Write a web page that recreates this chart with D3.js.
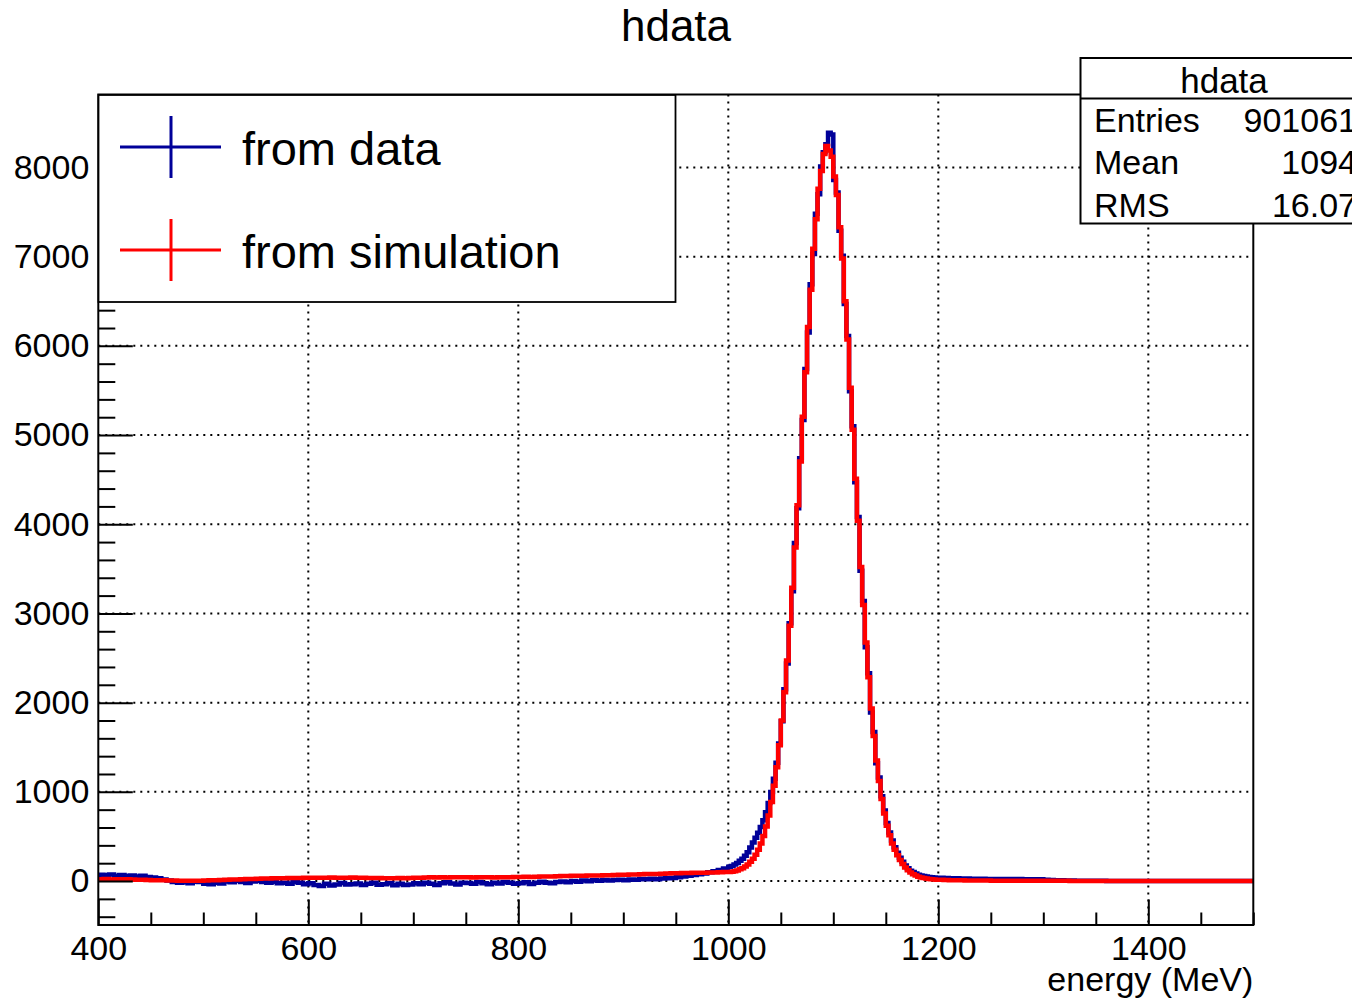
<!DOCTYPE html>
<html>
<head>
<meta charset="utf-8">
<title>hdata</title>
<script src="https://d3js.org/d3.v7.min.js"></script>
<style>
body { margin: 0; background: #fff; }
text { font-family: "Liberation Sans", Arial, Helvetica, sans-serif; fill: #000; }
</style>
</head>
<body>
<script>

// binning: 5 MeV bins below 1000 and above 1200, 2.5 MeV bins across the peak
var lowStart = 400, lowWidth = 5;
var peakStart = 1000, peakWidth = 2.5;
var highStart = 1200, highWidth = 5;

// "from data" counts
var dataLow = [
  70, 65, 72, 60, 68, 55, 62, 50, 58, 45,           // 400-450
  40, 30, 18, 5, -10, -20, -15, -25, -8, -12,       // 450-500
  -30, -37, -20, -28, -5, -15, 3, -10, -22, -5,     // 500-550
  3, -12, -20, -8, -25, -18, -30, -10, -19, -35,    // 550-600
  -25, -45, -56, -30, -50, -38, -22, -40, -37, -28, // 600-650
  -45, -30, -20, -42, -35, -25, -48, -30, -45, -40, // 650-700
  -26, -35, -20, -30, -45, -25, -15, -28, -38, -19, // 700-750
  -22, -30, -12, -25, -35, -20, -28, -10, -18, -30, // 750-800
  -26, -15, -32, -20, -8, -18, -25, -12, -5, -15,   // 800-850
  0, -8, 5, -3, 8, 2, 11, 6, 12, 15,                // 850-900
  10, 18, 14, 22, 19, 25, 20, 28, 32, 35,           // 900-950
  42, 50, 58, 67, 75, 85, 98, 110, 123, 140         // 950-1000
];
var dataPeak = [
  160, 168, 184, 203, 226, 249, 283, 324, 375, 431,            // 1000-1025
  486, 542, 607, 681, 771, 875, 997, 1148, 1326, 1543,         // 1025-1050
  1790, 2150, 2440, 2890, 3250, 3790, 4180, 4740, 5170, 5740,  // 1050-1075
  6150, 6690, 7030, 7480, 7700, 8010, 8170, 8260, 8390, 8370,  // 1075-1100
  7860, 7720, 7290, 7010, 6470, 6110, 5490, 5100, 4470, 4080,  // 1100-1125
  3480, 3140, 2620, 2330, 1890, 1670, 1320, 1160, 950, 790,    // 1125-1150
  650, 545, 455, 380, 318, 262, 215, 174, 142, 116,            // 1150-1175
  100, 85, 70, 62, 55, 50, 46, 43, 40, 38                      // 1175-1200
];
var dataHigh = [
  36, 33, 31, 30, 28, 27, 26, 25, 25, 24,           // 1200-1250
  24, 23, 23, 22, 22, 22, 21, 21, 20, 19,           // 1250-1300
  15, 12, 10, 8, 6, 5, 4, 3, 3, 2,                  // 1300-1350
  2, 2, 1, 1, 1, 1, 1, 1, 1, 1,                     // 1350-1400
  1, 0, 1, 0, 0, 1, 0, 0, 0, 0,                     // 1400-1450
  0, 0, 0, 0, 0, 0, 0, 0, 0, 0                      // 1450-1500
];

// "from simulation" counts
var simLow = [
  20, 22, 18, 20, 17, 19, 16, 15, 14, 12,
  10, 9, 8, 6, 5, 4, 3, 3, 2, 4,
  6, 8, 10, 12, 14, 16, 18, 20, 22, 24,
  26, 28, 29, 31, 30, 32, 34, 33, 35, 36,
  37, 36, 38, 37, 39, 38, 36, 37, 39, 38,
  36, 35, 34, 33, 32, 30, 31, 33, 32, 34,
  36, 38, 40, 41, 39, 42, 40, 41, 43, 42,
  41, 40, 42, 43, 41, 40, 42, 41, 43, 44,
  45, 47, 46, 48, 50, 52, 51, 53, 55, 56,
  58, 60, 59, 61, 63, 62, 64, 66, 68, 70,
  71, 73, 74, 76, 78, 80, 79, 82, 84, 86,
  88, 90, 89, 92, 94, 93, 96, 95, 98, 100
];
var simPeak = [
  100, 103, 109, 118, 131, 144, 163, 184, 215, 251,
  296, 352, 422, 506, 611, 735, 887, 1068, 1276, 1523,
  1801, 2117, 2471, 2862, 3287, 3738, 4212, 4703, 5206, 5704,
  6210, 6630, 7090, 7420, 7760, 7960, 8150, 8240, 8190, 8120,
  7900, 7690, 7330, 6980, 6500, 6070, 5530, 5060, 4510, 4040,
  3520, 3095, 2673, 2286, 1935, 1625, 1352, 1122, 921, 758,
  620, 514, 422, 350, 288, 235, 190, 151, 120, 96,
  77, 61, 49, 40, 34, 29, 24, 20, 17, 15
];
var simHigh = [
  13, 11, 10, 9, 8, 7, 6, 6, 5, 5,
  4, 4, 4, 3, 3, 3, 3, 3, 2, 2,
  2, 2, 2, 2, 2, 1, 1, 1, 1, 1,
  1, 1, 1, 1, 1, 1, 1, 1, 1, 1,
  1, 1, 1, 0, 0, 0, 0, 0, 0, 0,
  0, 0, 0, 0, 0, 0, 0, 0, 0, 0
];

var xMajor = [400, 600, 800, 1000, 1200, 1400];
var xMinor = [450, 500, 550, 650, 700, 750, 850, 900, 950, 1050, 1100, 1150, 1250, 1300, 1350, 1450, 1500];
var yMajor = [0, 1000, 2000, 3000, 4000, 5000, 6000, 7000, 8000];
var yMinor = [-400, -200, 200, 400, 600, 800, 1200, 1400, 1600, 1800, 2200, 2400, 2600, 2800,
              3200, 3400, 3600, 3800, 4200, 4400, 4600, 4800, 5200, 5400, 5600, 5800,
              6200, 6400, 6600, 6800, 7200, 7400, 7600, 7800, 8200, 8400, 8600, 8800];

var legendLabels = ["from data", "from simulation"];
var legendColors = ["#000099", "#ff0000"];
var statNames = ["Entries", "Mean", "RMS"];
var statValues = ["901061", "1094", "16.07"];

var W = 1352, H = 1000;
var fr = {left: 98.3, right: 1253.3, top: 94.5, bottom: 925};

var svg = d3.select("body").append("svg")
  .attr("width", W).attr("height", H)
  .style("background", "#fff");

var x = d3.scaleLinear().domain([400, 1500]).range([fr.left, fr.right]);
var y = d3.scaleLinear().domain([-493, 8818]).range([fr.bottom, fr.top]);

svg.append("defs").append("clipPath").attr("id", "clip")
  .append("rect")
  .attr("x", fr.left).attr("y", fr.top)
  .attr("width", fr.right - fr.left).attr("height", fr.bottom - fr.top);

// grid
var grid = svg.append("g").attr("stroke", "#000").attr("stroke-width", 2).attr("stroke-dasharray", "2,5");
grid.selectAll("line.gx").data(xMajor.slice(1)).enter().append("line")
  .attr("x1", function(d){ return x(d); }).attr("x2", function(d){ return x(d); })
  .attr("y1", fr.top).attr("y2", fr.bottom);
grid.selectAll("line.gy").data(yMajor).enter().append("line")
  .attr("x1", fr.left).attr("x2", fr.right)
  .attr("y1", function(d){ return y(d); }).attr("y2", function(d){ return y(d); });

// histograms as steps
function steps(low, peak, high) {
  var pts = [];
  low.forEach(function(c, i){ pts.push([lowStart + i*lowWidth, c]); });
  peak.forEach(function(c, i){ pts.push([peakStart + i*peakWidth, c]); });
  high.forEach(function(c, i){ pts.push([highStart + i*highWidth, c]); });
  pts.push([highStart + high.length*highWidth, high[high.length-1]]);
  return pts;
}
var line = d3.line()
  .x(function(d){ return x(d[0]); })
  .y(function(d){ return y(d[1]); })
  .curve(d3.curveStepAfter);

var hg = svg.append("g").attr("clip-path", "url(#clip)");
hg.append("path").datum(steps(dataLow, dataPeak, dataHigh))
  .attr("d", line).attr("fill", "none")
  .attr("stroke", legendColors[0]).attr("stroke-width", 4.5);
hg.append("path").datum(steps(simLow, simPeak, simHigh))
  .attr("d", line).attr("fill", "none")
  .attr("stroke", legendColors[1]).attr("stroke-width", 4.5);

// axes (ROOT style ticks pointing inward)
var xAx = svg.append("g").attr("transform", "translate(0," + fr.bottom + ")")
  .call(d3.axisBottom(x).tickValues(xMajor).tickSize(-25.5).tickSizeOuter(0).tickPadding(11).tickFormat(d3.format("d")));
svg.append("g").attr("transform", "translate(0," + fr.bottom + ")")
  .call(d3.axisBottom(x).tickValues(xMinor).tickSize(-12.5).tickSizeOuter(0).tickFormat(""));
var yAx = svg.append("g").attr("transform", "translate(" + fr.left + ",0)")
  .call(d3.axisLeft(y).tickValues(yMajor).tickSize(-34.5).tickSizeOuter(0).tickPadding(9).tickFormat(d3.format("d")));
svg.append("g").attr("transform", "translate(" + fr.left + ",0)")
  .call(d3.axisLeft(y).tickValues(yMinor).tickSize(-17).tickSizeOuter(0).tickFormat(""));

svg.selectAll(".tick line").attr("stroke", "#000").attr("stroke-width", 2);
svg.selectAll(".domain").remove();
xAx.selectAll("text").attr("font-size", 34).attr("fill", "#000");
yAx.selectAll("text").attr("font-size", 34).attr("fill", "#000");

// frame
svg.append("rect")
  .attr("x", fr.left).attr("y", fr.top)
  .attr("width", fr.right - fr.left).attr("height", fr.bottom - fr.top)
  .attr("fill", "none").attr("stroke", "#000").attr("stroke-width", 2);

// axis title
svg.append("text").attr("x", fr.right).attr("y", 991)
  .attr("text-anchor", "end").attr("font-size", 34).text("energy (MeV)");

// title
svg.append("text").attr("x", 676).attr("y", 41)
  .attr("text-anchor", "middle").attr("font-size", 44).text("hdata");

// legend
var lg = svg.append("g");
lg.append("rect").attr("x", 98.5).attr("y", 95).attr("width", 577).attr("height", 207)
  .attr("fill", "#fff").attr("stroke", "#000").attr("stroke-width", 1.8);
var rowsY = [147, 250];
legendLabels.forEach(function(lab, i){
  var cy = rowsY[i];
  lg.append("line").attr("x1", 120).attr("x2", 221).attr("y1", cy).attr("y2", cy)
    .attr("stroke", legendColors[i]).attr("stroke-width", 3);
  lg.append("line").attr("x1", 171).attr("x2", 171).attr("y1", cy - 31).attr("y2", cy + 31)
    .attr("stroke", legendColors[i]).attr("stroke-width", 3);
  lg.append("text").attr("x", 242).attr("y", cy + 18).attr("font-size", 47).text(lab);
});

// stats box
var st = svg.append("g");
st.append("rect").attr("x", 1080.5).attr("y", 58).attr("width", 300).attr("height", 165.5)
  .attr("fill", "#fff").attr("stroke", "#000").attr("stroke-width", 2);
st.append("line").attr("x1", 1080.5).attr("x2", 1352).attr("y1", 98.5).attr("y2", 98.5)
  .attr("stroke", "#000").attr("stroke-width", 2);
st.append("text").attr("x", 1224).attr("y", 92.5).attr("text-anchor", "middle")
  .attr("font-size", 35).text("hdata");
var statY = [132, 173.5, 216.5];
statNames.forEach(function(n, i){
  st.append("text").attr("x", 1094).attr("y", statY[i]).attr("font-size", 34).text(n);
  st.append("text").attr("x", 1357).attr("y", statY[i]).attr("text-anchor", "end")
    .attr("font-size", 34).text(statValues[i]);
});

</script>
</body>
</html>
